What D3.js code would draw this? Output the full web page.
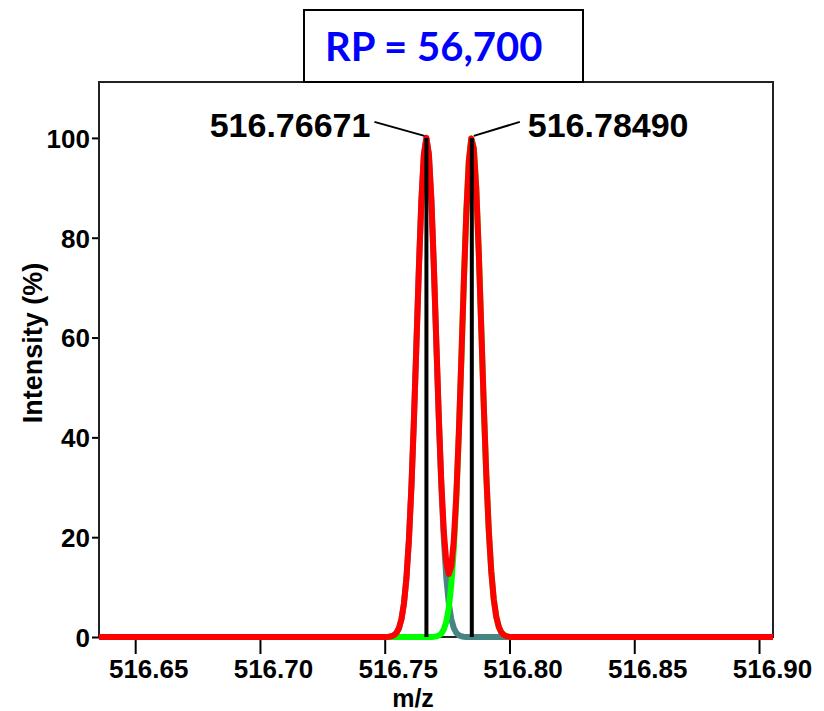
<!DOCTYPE html>
<html>
<head>
<meta charset="utf-8">
<script src="https://cdn.jsdelivr.net/npm/d3@7"></script>
<style>
  body { margin: 0; background: #fff; }
  text { font-family: "Liberation Sans", Arial, sans-serif; font-weight: bold; }
</style>
</head>
<body>
<div id="chart"></div>
<script>
var mz = [516.6355, 516.7507, 516.7517, 516.7527, 516.7537, 516.7547, 516.7557, 516.7567, 516.7577,
  516.7587, 516.7597, 516.7607, 516.7617, 516.7627, 516.7637, 516.7647, 516.7657, 516.7667, 516.7677,
  516.7687, 516.7697, 516.7707, 516.7717, 516.7727, 516.7737, 516.7747, 516.7757, 516.7767, 516.7777,
  516.7787, 516.7797, 516.7807, 516.7817, 516.7827, 516.7837, 516.7847, 516.7857, 516.7867, 516.7877,
  516.7887, 516.7897, 516.7907, 516.7917, 516.7927, 516.7937, 516.7947, 516.7957, 516.7967, 516.7977,
  516.7987, 516.7997, 516.8007, 516.9056];

// first isotope peak (teal)
var peak1 = [0, 0.02, 0.06, 0.14, 0.35, 0.82, 1.76, 3.55, 6.69, 11.8, 19.5, 30.1, 43.4, 58.6, 74.0,
  87.5, 96.7, 100, 96.7, 87.5, 74.0, 58.6, 43.4, 30.1, 19.5, 11.8, 6.69, 3.55, 1.76, 0.82, 0.35,
  0.14, 0.06, 0.02, 0, 0, 0, 0, 0, 0, 0, 0, 0, 0, 0, 0, 0, 0, 0, 0, 0, 0, 0];

// second peak (green)
var peak2 = [0, 0, 0, 0, 0, 0, 0, 0, 0, 0, 0, 0, 0, 0, 0, 0, 0, 0, 0, 0.02, 0.05, 0.12, 0.30, 0.69,
  1.52, 3.10, 5.93, 10.59, 17.71, 27.70, 40.54, 55.49, 71.04, 85.08, 95.30, 99.87, 97.89, 89.75,
  76.97, 61.74, 46.33, 32.52, 21.36, 13.12, 7.54, 4.05, 2.04, 0.96, 0.42, 0.17, 0.07, 0.02, 0];

// summed profile (red)
var total = [0, 0.02, 0.06, 0.14, 0.35, 0.82, 1.76, 3.55, 6.69, 11.8, 19.5, 30.1, 43.4, 58.6, 74.0,
  87.5, 96.7, 100, 96.7, 87.52, 74.05, 58.72, 43.70, 30.79, 21.02, 14.90, 12.62, 14.14, 19.47, 28.52,
  40.89, 55.63, 71.10, 85.10, 95.30, 99.87, 97.89, 89.75, 76.97, 61.74, 46.33, 32.52, 21.36, 13.12,
  7.54, 4.05, 2.04, 0.96, 0.42, 0.17, 0.07, 0.02, 0];

var stickMz = [516.76671, 516.78490];
var stickInt = [100, 100];
var stickLabels = ["516.76671", "516.78490"];

var xTicks = [516.65, 516.70, 516.75, 516.80, 516.85, 516.90];
var yTicks = [0, 20, 40, 60, 80, 100];
var title = "RP = 56,700";

var width = 824, height = 711;
var plot = {left: 99, right: 773, top: 82, bottom: 637};

var svg = d3.select("#chart").append("svg")
    .attr("width", width)
    .attr("height", height);

var x = d3.scaleLinear().domain([516.6355, 516.9056]).range([plot.left, plot.right]);
var y = d3.scaleLinear().domain([0, 111.2]).range([plot.bottom, plot.top]);

// axes
var xAxis = svg.append("g")
    .attr("transform", "translate(0," + plot.bottom + ")")
    .call(d3.axisBottom(x).tickValues(xTicks).tickFormat(d3.format(".2f")).tickSize(17).tickPadding(6));
xAxis.select(".domain").remove();
xAxis.selectAll(".tick line").attr("stroke", "#000").attr("stroke-width", 2);
xAxis.selectAll(".tick text")
    .attr("fill", "#000")
    .attr("dx", 13)
    .style("font-size", "26px");

var yAxis = svg.append("g")
    .attr("transform", "translate(" + plot.left + ",0)")
    .call(d3.axisLeft(y).tickValues(yTicks).tickSize(7).tickPadding(2));
yAxis.select(".domain").remove();
yAxis.selectAll(".tick line").attr("stroke", "#000").attr("stroke-width", 2);
yAxis.selectAll(".tick text")
    .attr("fill", "#000")
    .attr("dy", "0.36em")
    .style("font-size", "26px");

// frame
svg.append("rect")
    .attr("x", plot.left)
    .attr("y", plot.top)
    .attr("width", plot.right - plot.left)
    .attr("height", plot.bottom - plot.top)
    .style("fill", "none")
    .style("stroke", "#222")
    .style("stroke-width", 2);

// profiles
function drawProfile(vals, color) {
    var line = d3.line()
        .x(function(d, i) { return x(mz[i]); })
        .y(function(d) { return y(d); });
    svg.append("path")
        .datum(vals)
        .attr("d", line)
        .style("fill", "none")
        .style("stroke", color)
        .style("stroke-width", 6)
        .style("stroke-linejoin", "round");
}
drawProfile(peak1, "#478585");
drawProfile(peak2, "#00ff00");
drawProfile(total, "#ff0000");

// centroid sticks
stickMz.forEach(function(m, i) {
    svg.append("line")
        .attr("x1", x(m)).attr("x2", x(m))
        .attr("y1", y(0)).attr("y2", y(stickInt[i]))
        .style("stroke", "#000")
        .style("stroke-width", 4);
});

// peak labels with leader lines
var labelDx = [-52, 48];
stickMz.forEach(function(m, i) {
    var px = x(m), py = y(stickInt[i]);
    var lx = px + labelDx[i];
    svg.append("line")
        .attr("x1", px + (i == 0 ? -2 : 2)).attr("y1", py - 2)
        .attr("x2", lx).attr("y2", py - 16)
        .style("stroke", "#000")
        .style("stroke-width", 2);
    svg.append("text")
        .attr("x", lx + (i == 0 ? -4 : 8))
        .attr("y", py - 1)
        .attr("text-anchor", i == 0 ? "end" : "start")
        .style("font-size", "34px")
        .text(stickLabels[i]);
});

// axis titles
svg.append("text")
    .attr("x", 413)
    .attr("y", 707)
    .attr("text-anchor", "middle")
    .style("font-size", "25px")
    .text("m/z");

svg.append("text")
    .attr("transform", "translate(42,343) rotate(-90)")
    .attr("text-anchor", "middle")
    .style("font-size", "27px")
    .text("Intensity (%)");

// resolving power box
svg.append("rect")
    .attr("x", 304)
    .attr("y", 10)
    .attr("width", 279)
    .attr("height", 72)
    .style("fill", "#fff")
    .style("stroke", "#000")
    .style("stroke-width", 2);

svg.append("text")
    .attr("x", 325)
    .attr("y", 61)
    .style("font-family", "Lato, 'Open Sans', sans-serif")
    .style("font-size", "40px")
    .style("fill", "#0000ff")
    .text(title);
</script>
</body>
</html>
